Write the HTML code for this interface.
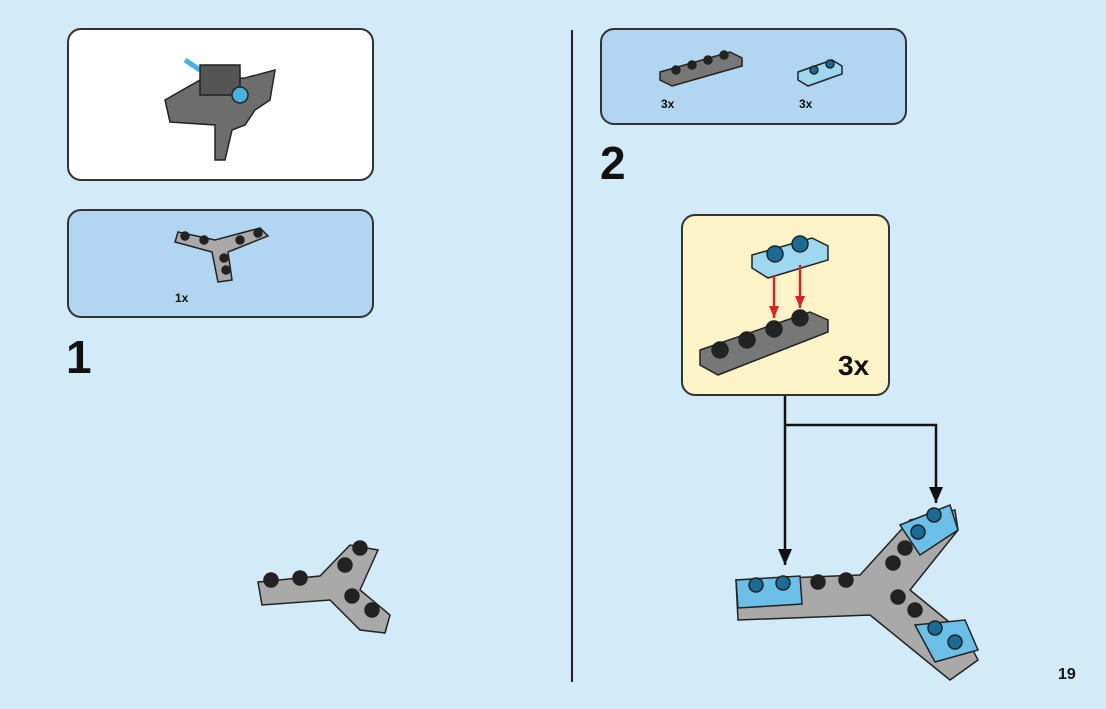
<!DOCTYPE html>
<html><head><meta charset="utf-8"><style>
body{margin:0;width:1106px;height:709px;background:#d3eaf9;overflow:hidden;font-family:"Liberation Sans",sans-serif;position:relative}
.p{position:absolute;border:2px solid #333;border-radius:14px;box-sizing:border-box}
.t{position:absolute;font-weight:bold;color:#111}
</style></head><body>
<div class="p" style="left:67px;top:28px;width:307px;height:153px;background:#fff"></div>
<div class="p" style="left:67px;top:209px;width:307px;height:109px;background:#b2d6f1"></div>
<div class="p" style="left:600px;top:28px;width:307px;height:97px;background:#b2d6f1"></div>
<div class="p" style="left:681px;top:214px;width:209px;height:182px;background:#fdf3c9"></div>
<div style="position:absolute;left:571px;top:30px;width:2px;height:652px;background:#222"></div>
<div class="t" style="left:66px;top:330px;font-size:46px">1</div>
<div class="t" style="left:600px;top:136px;font-size:46px">2</div>
<div class="t" style="left:175px;top:291px;font-size:12px">1x</div>
<div class="t" style="left:661px;top:97px;font-size:12px">3x</div>
<div class="t" style="left:799px;top:97px;font-size:12px">3x</div>
<div class="t" style="left:838px;top:350px;font-size:28px">3x</div>
<div class="t" style="left:1058px;top:666px;font-size:16px">19</div>
<svg width="1106" height="709" style="position:absolute;left:0;top:0">
<defs><marker id="a" markerWidth="16" markerHeight="14" refX="16" refY="7" orient="auto" markerUnits="userSpaceOnUse"><path d="M0,0 L16,7 L0,14z" fill="#111"/></marker>
<marker id="r" markerWidth="12" markerHeight="10" refX="12" refY="5" orient="auto" markerUnits="userSpaceOnUse"><path d="M0,0 L12,5 L0,10z" fill="#d22"/></marker></defs>
<g stroke="#222" stroke-width="1.5">
<path d="M165,100 L200,80 L245,78 L275,70 L270,100 L255,110 L245,125 L232,130 L225,160 L215,160 L215,125 L170,122z" fill="#6d6d6d"/>
<path d="M185,60 L200,70" stroke="#4ab0e0" stroke-width="5"/>
<rect x="200" y="65" width="40" height="30" fill="#555"/>
<circle cx="240" cy="95" r="8" fill="#4ab0e0"/>
</g>
<g stroke="#222" stroke-width="1.5" fill="#a9a9a9">
<path d="M178,232 L215,240 L260,228 L268,236 L228,252 L232,280 L218,282 L212,252 L175,242z"/>
<g fill="#222"><circle cx="185" cy="236" r="4"/><circle cx="204" cy="240" r="4"/><circle cx="240" cy="240" r="4"/><circle cx="258" cy="233" r="4"/><circle cx="224" cy="258" r="4"/><circle cx="226" cy="270" r="4"/></g>
</g>
<g stroke="#222" stroke-width="1.5">
<path d="M258,582 L320,576 L350,545 L378,550 L360,590 L390,615 L385,633 L360,630 L330,600 L262,605z" fill="#a9a9a9"/>
<g fill="#222"><circle cx="271" cy="580" r="7"/><circle cx="300" cy="578" r="7"/><circle cx="345" cy="565" r="7"/><circle cx="360" cy="548" r="7"/><circle cx="352" cy="596" r="7"/><circle cx="372" cy="610" r="7"/></g>
</g>
<g stroke="#222" stroke-width="1.5">
<path d="M660,72 L730,52 L742,58 L742,66 L672,86 L660,80z" fill="#777"/>
<g fill="#222"><circle cx="676" cy="70" r="4"/><circle cx="692" cy="65" r="4"/><circle cx="708" cy="60" r="4"/><circle cx="724" cy="55" r="4"/></g>
<path d="M798,72 L832,60 L842,66 L842,74 L808,86 L798,80z" fill="#9ed7f0"/>
<g fill="#1a6c96"><circle cx="814" cy="70" r="4"/><circle cx="830" cy="64" r="4"/></g>
</g>
<g stroke="#222" stroke-width="1.5">
<path d="M752,255 L812,238 L828,246 L828,260 L768,278 L752,268z" fill="#9ed7f0"/>
<g fill="#1a6c96"><circle cx="775" cy="254" r="8"/><circle cx="800" cy="244" r="8"/></g>
<path d="M700,350 L810,312 L828,320 L828,332 L718,375 L700,365z" fill="#777"/>
<g fill="#222"><circle cx="720" cy="350" r="8"/><circle cx="747" cy="340" r="8"/><circle cx="774" cy="329" r="8"/><circle cx="800" cy="318" r="8"/></g>
</g>
<line x1="774" y1="275" x2="774" y2="318" stroke="#d22" stroke-width="2.5" marker-end="url(#r)"/>
<line x1="800" y1="265" x2="800" y2="308" stroke="#d22" stroke-width="2.5" marker-end="url(#r)"/>
<path d="M785,396 L785,565" stroke="#111" stroke-width="2.5" fill="none" marker-end="url(#a)"/>
<path d="M785,425 L936,425 L936,503" stroke="#111" stroke-width="2.5" fill="none" marker-end="url(#a)"/>
<g stroke="#222" stroke-width="1.5">
<path d="M736,580 L860,575 L910,520 L955,510 L958,530 L910,590 L965,635 L978,660 L950,680 L870,615 L738,620z" fill="#a9a9a9"/>
<path d="M736,580 L800,576 L802,604 L738,608z" fill="#6cc0e8"/>
<path d="M900,525 L950,505 L958,530 L920,555z" fill="#6cc0e8"/>
<path d="M915,625 L965,620 L978,650 L935,662z" fill="#6cc0e8"/>
<g fill="#222"><circle cx="818" cy="582" r="7"/><circle cx="846" cy="580" r="7"/><circle cx="893" cy="563" r="7"/><circle cx="905" cy="548" r="7"/><circle cx="898" cy="597" r="7"/><circle cx="915" cy="610" r="7"/></g>
<g fill="#1a6c96"><circle cx="756" cy="585" r="7"/><circle cx="783" cy="583" r="7"/><circle cx="918" cy="532" r="7"/><circle cx="934" cy="515" r="7"/><circle cx="935" cy="628" r="7"/><circle cx="955" cy="642" r="7"/></g>
</g>
</svg>
</body></html>
